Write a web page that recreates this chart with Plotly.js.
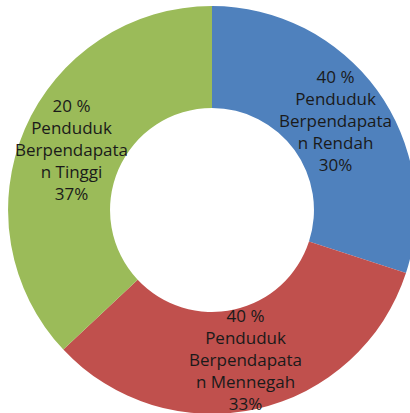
<!DOCTYPE html>
<html>
<head>
<meta charset="utf-8">
<script src="https://cdn.plot.ly/plotly-3.0.1.min.js"></script>
<style>
html,body{margin:0;padding:0;overflow:hidden;background:#fff;}
#chart{width:424px;height:420px;}
</style>
</head>
<body>
<div id="chart"></div>
<script>
// Data
var categories = ["Penduduk Berpendapatan Rendah", "Penduduk Berpendapatan Mennegah", "Penduduk Berpendapatan Tinggi"];
var shares = [30, 33, 37];
var populationPct = ["40 %", "40 %", "20 %"];
var labelLines = [
  ["Penduduk", "Berpendapata", "n Rendah"],
  ["Penduduk", "Berpendapata", "n Mennegah"],
  ["Penduduk", "Berpendapata", "n Tinggi"]
];
var colors = ["#4F81BD", "#C0504D", "#9BBB59"];

var W = 424, H = 420;
var domX = [0.019, 0.981], domY = [0, 1];
var hole = 0.5;

var trace = {
  type: "pie",
  values: shares,
  labels: categories,
  marker: {colors: colors, line: {width: 0}},
  hole: hole,
  sort: false,
  direction: "clockwise",
  rotation: 0,
  textinfo: "none",
  hoverinfo: "none",
  domain: {x: domX, y: domY}
};

// Label annotations at slice mid-angles (derived from data)
var total = shares.reduce(function(a,b){return a+b;},0);
var cx = W*(domX[0]+domX[1])/2, cy = H*(1-(domY[0]+domY[1])/2);
var R = Math.min(W*(domX[1]-domX[0]), H*(domY[1]-domY[0]))/2;
var rText = R*0.75;
var annotations = [];
var cum = 0;
for (var i=0;i<shares.length;i++){
  var mid = (cum + shares[i]/2)/total*2*Math.PI;
  cum += shares[i];
  var px = cx + rText*Math.sin(mid);
  var py = cy - rText*Math.cos(mid);
  var pct = Math.round(shares[i]/total*100) + "%";
  annotations.push({
    x: px/W, y: 1 - py/H, xref: "paper", yref: "paper",
    xanchor: "center", yanchor: "middle",
    showarrow: false, align: "center",
    text: [populationPct[i]].concat(labelLines[i]).concat([pct]).join("<br>"),
    font: {family: "Open Sans, Noto Sans, sans-serif", size: 17, color: "#1a1a1a"}
  });
}

var layout = {
  width: W, height: H,
  margin: {l:0, r:0, t:0, b:0},
  showlegend: false,
  paper_bgcolor: "#fff",
  annotations: annotations
};

Plotly.newPlot("chart", [trace], layout, {staticPlot: true, displayModeBar: false});
</script>
</body>
</html>
